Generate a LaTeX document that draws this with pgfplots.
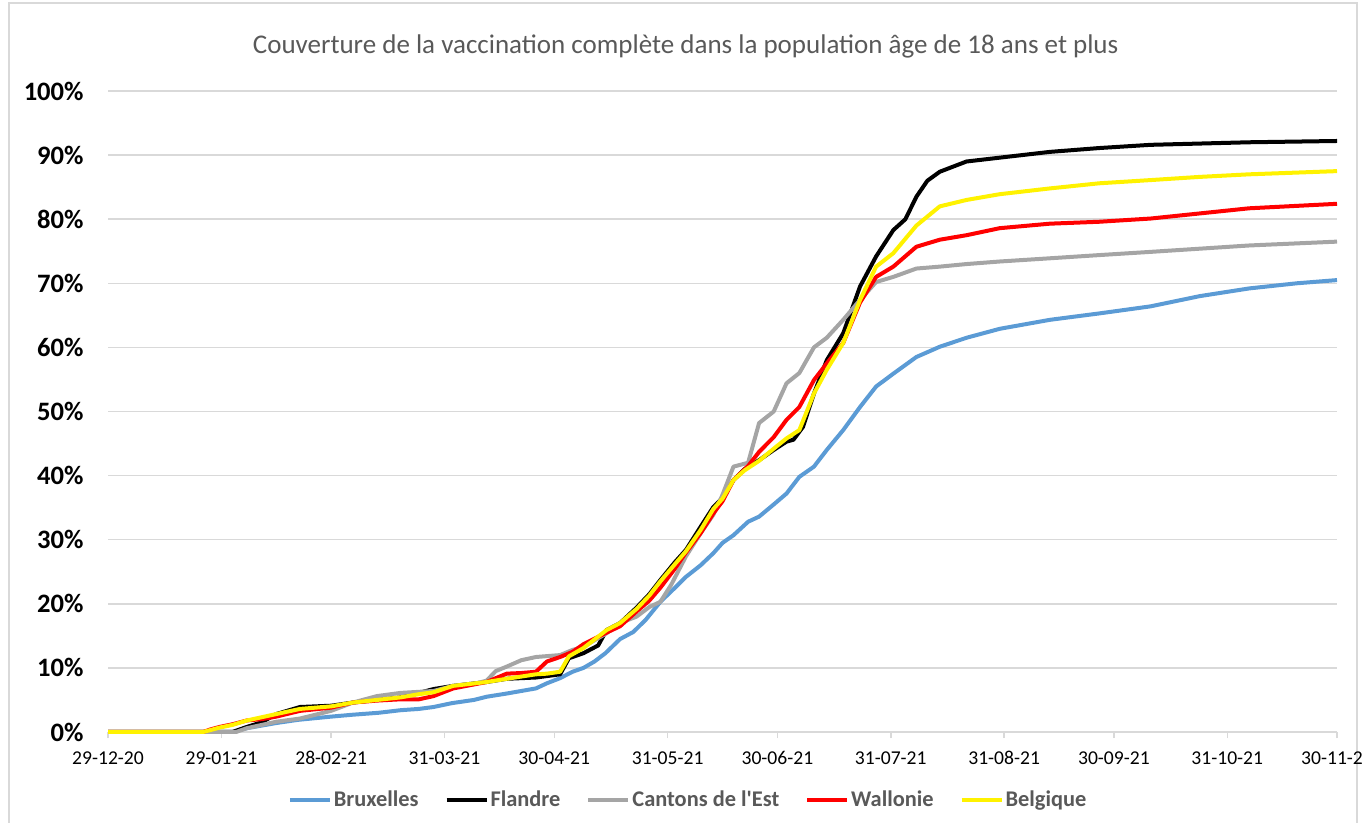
\documentclass[border=0pt]{standalone}
\usepackage{pgfplots}
\pgfplotsset{compat=1.18}
\usepackage{fontspec}
\setmainfont{Carlito}

\definecolor{cBru}{HTML}{5B9BD5}
\definecolor{cCan}{HTML}{A5A5A5}
\definecolor{cGrid}{HTML}{D9D9D9}
\definecolor{cTxt}{HTML}{595959}

\begin{document}
\begin{tikzpicture}
  \useasboundingbox (0,0) rectangle (681.5pt,411.5pt);
  \draw[cGrid, line width=0.75pt] (4.5pt,-5pt) rectangle (678.5pt,410pt);
  \begin{axis}[
      at={(54pt,45.5pt)}, anchor=south west,
      scale only axis, width=614.5pt, height=320.5pt,
      xmin=0, xmax=336, ymin=0, ymax=100,
      clip=false,
      axis lines*=left,
      y axis line style={draw=none},
      x axis line style={cGrid, line width=0.75pt},
      ymajorgrids,
      grid style={cGrid, line width=0.75pt},
      ytick={0,10,...,100},
      yticklabels={0\%,10\%,20\%,30\%,40\%,50\%,60\%,70\%,80\%,90\%,100\%},
      ytick style={draw=none},
      yticklabel style={font=\fontsize{13.3}{15}\selectfont\bfseries, anchor=east, inner sep=0pt, xshift=-9pt},
      xtick={0,31,61,92,122,153,183,214,245,275,306,336},
      xticklabels={29-12-20,29-01-21,28-02-21,31-03-21,30-04-21,31-05-21,30-06-21,31-07-21,31-08-21,30-09-21,31-10-21,30-11-21},
      xtick style={cGrid, line width=0.75pt},
      tick align=outside, major tick length=3pt,
      xticklabel style={font=\fontsize{9.8}{11}\selectfont, anchor=north, inner sep=0pt, yshift=-6.5pt},
      title={Couverture de la vaccination complète dans la population âge de 18 ans et plus},
      title style={at={(0.470,1.050)}, anchor=center, yshift=0pt, font=\fontsize{13.5}{15}\selectfont, text=cTxt},
      legend columns=5,
      legend style={draw=none, at={(0.472,-0.106)}, anchor=center,
        font=\fontsize{11.2}{13}\selectfont\bfseries, text=cTxt,
        /tikz/every even column/.append style={column sep=12pt},
        nodes={inner xsep=1pt}},
      legend image code/.code={\draw[#1, line width=2pt] (0pt,0pt) -- (20pt,0pt);},
      every axis plot/.append style={line width=2pt, line join=round},
    ]
    \addplot[cBru] coordinates {
      (0,0) (34,0) (38,0.6) (46,1.4) (52,1.9) (61,2.4) (67,2.7) (74,3.0) (80,3.4) (85,3.6) (89,3.9)
      (94,4.5) (100,5.0) (103.5,5.5) (109,6.0) (117,6.8) (120,7.6) (123.6,8.4) (127,9.4) (130,10.0)
      (133,11.0) (136,12.3) (140,14.5) (143.6,15.6) (147,17.5) (151,20.3) (155,22.5) (158,24.2)
      (162,26.0) (165.5,27.9) (168,29.5) (171,30.7) (175,32.8) (178,33.6) (182,35.5) (185.5,37.2)
      (189,39.8) (193,41.4) (196.5,44.0) (201,47.1) (205.6,50.7) (210,53.9) (214.7,55.9) (221,58.5)
      (227.4,60.1) (234.7,61.5) (243.8,62.9) (257.5,64.3) (271,65.3) (285,66.4) (298.5,68.0)
      (312,69.2) (325,70.0) (336,70.5)};
    \addlegendentry{Bruxelles}
    \addplot[black] coordinates {
      (0,0) (34,0) (38,0.8) (42,1.5) (46,2.8) (52.5,3.9) (61,4.1) (67,4.6) (73.5,5.0) (80,5.4)
      (85,6.1) (89,6.7) (94.4,7.2) (103.5,7.8) (109,8.3) (117,8.5) (121,8.8) (123.6,9.0) (126,11.5)
      (130,12.3) (134,13.5) (136.3,15.9) (140,17.0) (144.5,19.4) (148,21.5) (151,23.7) (155,26.5)
      (158,28.4) (162,32.0) (165.5,35.1) (168,36.5) (171,39.3) (174,41.0) (178,42.4) (182,44.0)
      (185.5,45.3) (187.4,45.6) (190,47.6) (193,52.8) (196.5,58.0) (201,62.2) (205.6,69.5)
      (210,74.2) (214.7,78.3) (218,80.0) (221,83.5) (224,86.0) (227.4,87.4) (234.7,89.0)
      (243.8,89.6) (257.5,90.5) (271,91.1) (285,91.6) (298.5,91.8) (312,92.0) (336,92.2)};
    \addlegendentry{Flandre}
    \addplot[cCan] coordinates {
      (0,0) (35,0) (38,0.6) (46,1.6) (52.5,2.1) (61,3.3) (67,4.6) (73.5,5.6) (80,6.1) (89,6.4)
      (94.4,7.2) (100,7.5) (103.5,8.0) (106,9.5) (109,10.2) (113,11.2) (117,11.7) (123.6,12.0)
      (127,12.8) (130,13.3) (136.3,15.4) (140,17.0) (144.5,18.0) (148,19.5) (151,20.3) (154,23.0)
      (158,27.4) (162,31.0) (165.5,33.9) (168,37.0) (171,41.4) (175,42.0) (178,48.2) (182,50.0)
      (185.5,54.4) (189,56.0) (193,60.0) (196.5,61.5) (201,64.3) (205.6,67.4) (210,70.2)
      (214.7,71.0) (221,72.3) (227.4,72.6) (234.7,73.0) (243.8,73.4) (257.5,73.9) (271,74.4)
      (285,74.9) (298.5,75.4) (312,75.9) (336,76.5)};
    \addlegendentry{Cantons de l\textquotesingle Est}
    \addplot[red] coordinates {
      (0,0) (26,0) (28,0.4) (30.6,0.8) (34,1.2) (38,1.8) (42,2.0) (46,2.4) (52.5,3.3) (61,3.8)
      (67,4.6) (73.5,4.9) (80,5.1) (85,5.1) (89,5.6) (94.4,6.8) (103.5,7.8) (109,9.1) (113,9.2)
      (117,9.4) (120,11.0) (123.6,11.7) (127,12.5) (130,13.7) (136.3,15.5) (140,16.5) (144.5,18.8)
      (148,20.5) (151,22.5) (155,25.5) (158,28.0) (162,31.0) (165.5,34.1) (168,36.0) (171,39.3)
      (175,41.5) (178,43.7) (182,46.0) (185.5,48.7) (189,50.7) (193,54.9) (196.5,57.5) (201,60.7)
      (205.6,67.0) (210,71.0) (214.7,72.6) (221,75.7) (227.4,76.8) (234.7,77.5) (243.8,78.6)
      (257.5,79.3) (271,79.6) (285,80.1) (298.5,80.9) (312,81.7) (336,82.4)};
    \addlegendentry{Wallonie}
    \addplot[yellow] coordinates {
      (0,0) (26,0) (28,0.3) (30.6,0.7) (34,1.1) (38,1.8) (46,2.8) (52.5,3.6) (61,4.0) (67,4.6)
      (73.5,5.0) (80,5.4) (85,5.9) (89,6.2) (94.4,7.2) (103.5,7.8) (109,8.3) (117,9.0) (120,9.1)
      (123.6,9.4) (126,11.8) (130,13.1) (136.3,15.9) (140,17.0) (144.5,19.2) (148,21.3) (151,23.5)
      (155,26.2) (158,28.2) (162,31.5) (165.5,34.8) (168,36.4) (171,39.3) (174,40.8) (178,42.3)
      (182,44.2) (185.5,45.8) (189,47.1) (193,52.8) (196.5,56.5) (201,60.7) (205.6,67.4)
      (210,72.6) (214.7,74.7) (221,79.0) (227.4,82.0) (234.7,83.0) (243.8,83.9) (257.5,84.8)
      (271,85.6) (285,86.1) (298.5,86.6) (312,87.0) (336,87.5)};
    \addlegendentry{Belgique}
  \end{axis}
\end{tikzpicture}
\end{document}
